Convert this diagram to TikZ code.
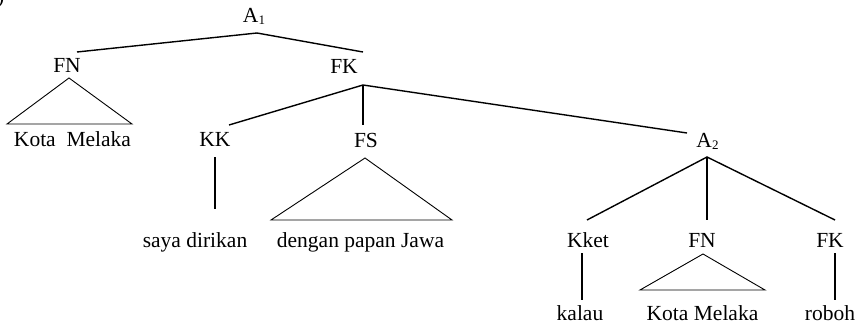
\documentclass[tikz,border=0pt]{standalone}
\usepackage{fontspec}
\setmainfont{Liberation Serif}
\begin{document}
\begin{tikzpicture}[x=1pt,y=-1pt,
  lbl/.style={inner sep=0pt,anchor=base,font=\fontsize{21.5}{24}\selectfont},
  branch/.style={line width=1.4pt},
  roof/.style={line width=0.9pt,line join=miter}]
\useasboundingbox (0,0) rectangle (863,327);
\newcommand{\subone}[1]{\raisebox{-2.5pt}{\fontsize{13}{13}\selectfont #1}}
% partial label at top-left corner
\node[lbl,anchor=base west] (frag) at (-3,3) {)};
% labels
\node[lbl] (A1) at (254,22) {A\subone{1}};
\node[lbl] (FN1) at (67,72) {FN};
\node[lbl] (FK1) at (344,73) {FK};
\node[lbl] (KM1) at (72.5,146) {Kota\ \ Melaka};
\node[lbl] (KK) at (215,146) {KK};
\node[lbl] (FS) at (366,147) {FS};
\node[lbl] (A2) at (707.5,147) {A\subone{2}};
\node[lbl] (SD) at (195,247) {saya dirikan};
\node[lbl] (DP) at (360.5,247) {dengan papan Jawa};
\node[lbl] (Kket) at (588,247) {Kket};
\node[lbl] (FN2) at (702,247) {FN};
\node[lbl] (FK2) at (830,247) {FK};
\node[lbl] (kal) at (580,320) {kalau};
\node[lbl] (KM2) at (702.5,320) {Kota Melaka};
\node[lbl] (rob) at (830,320) {roboh};
% branch points
\coordinate (a1b) at (257,33);
\coordinate (fn1t) at (77,52);
\coordinate (fk1t) at (363,52);
\coordinate (fk1b) at (363,85);
\coordinate (kkt) at (229,125);
\coordinate (fst) at (363,125);
\coordinate (a2t) at (687,133);
\coordinate (kkb) at (215,157);
\coordinate (kke) at (215,209);
\coordinate (a2b) at (707,157);
\coordinate (kkett) at (587,220);
\coordinate (fn2t) at (707,220);
\coordinate (fk2t) at (835,220);
\coordinate (kketb) at (582,253);
\coordinate (kkete) at (582,300);
\coordinate (fk2b) at (835,253);
\coordinate (fk2e) at (835,300);
% roofs
\coordinate (r1a) at (69,78);
\coordinate (r1l) at (7,124);
\coordinate (r1r) at (132,124);
\coordinate (r2a) at (365,158);
\coordinate (r2l) at (271,220);
\coordinate (r2r) at (452,220);
\coordinate (r3a) at (703,254);
\coordinate (r3l) at (640,290);
\coordinate (r3r) at (765,290);
% branches
\draw[branch] (fn1t) -- (a1b) -- (fk1t);
\draw[branch] (kkt) -- (fk1b) -- (a2t);
\draw[branch] (fk1b) -- (fst);
\draw[branch] (kkb) -- (kke);
\draw[branch] (kkett) -- (a2b) -- (fk2t);
\draw[branch] (a2b) -- (fn2t);
\draw[branch] (kketb) -- (kkete);
\draw[branch] (fk2b) -- (fk2e);
% roofs
\draw[roof] (r1l) -- (r1a) -- (r1r) -- cycle;
\draw[roof] (r2l) -- (r2a) -- (r2r) -- cycle;
\draw[roof] (r3l) -- (r3a) -- (r3r) -- cycle;
\end{tikzpicture}
\end{document}
